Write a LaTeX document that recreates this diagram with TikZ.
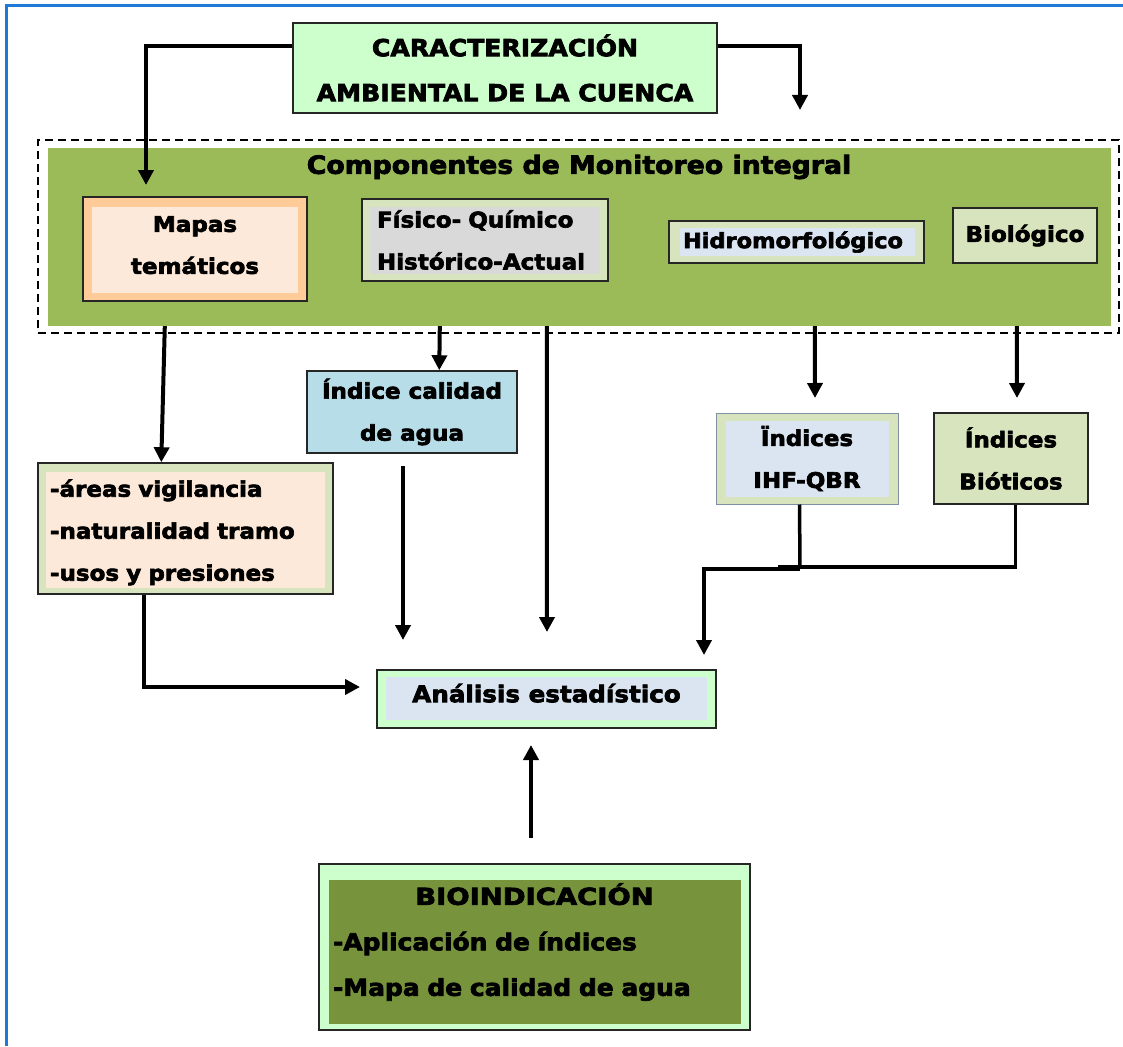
\documentclass[tikz,border=0pt]{standalone}
\usepackage{fontspec}
\usepackage{graphicx}
\setmainfont{DejaVu Sans Bold}[FakeStretch=1.07, FakeBold=3]
\usetikzlibrary{arrows.meta,calc}

\definecolor{frameblue}{HTML}{1E7AD6}
\definecolor{leafgreen}{HTML}{9BBB59}
\definecolor{mint}{HTML}{CCFFCC}
\definecolor{paleolive}{HTML}{D7E4BD}
\definecolor{paleblue}{HTML}{DBE5F1}
\definecolor{waterblue}{HTML}{B7DEE8}
\definecolor{peach}{HTML}{FDE9D9}
\definecolor{apricot}{HTML}{FFCC99}
\definecolor{lightgrey}{HTML}{D9D9D9}
\definecolor{olive}{HTML}{77933C}
\definecolor{edge}{HTML}{262626}
\definecolor{slateedge}{HTML}{7F8FA6}

% invisible struts that move a text block inside its box
\newcommand{\padbelow}[1]{\rule[-#1]{0pt}{#1}}
\newcommand{\padabove}[1]{\rule{0pt}{#1}}

\tikzset{
  box/.style n args={3}{draw=edge, line width=1.5pt, fill=#1,
    minimum width=#2pt, minimum height=#3pt, inner sep=0pt,
    font=\fontsize{21.5}{42}\selectfont, align=center},
  % inner coloured panel: colour, left, right, top, bottom insets
  inset/.style n args={5}{path picture={
    \fill[#1] ($(path picture bounding box.south west)+(#2pt,#5pt)$)
      rectangle ($(path picture bounding box.north east)+(-#3pt,-#4pt)$);}},
  link/.style={line width=4pt, draw=black},
  thinlink/.style={line width=3.5pt, draw=black},
  arrow/.style={link, -{Triangle[length=15pt,width=15pt]}},
}

\begin{document}
\begin{tikzpicture}[x=1pt, y=-1pt]
  \fill[white] (0,0) rectangle (1123,1046);
  \useasboundingbox (0,0) rectangle (1123,1046);

  % outer page frame
  \draw[frameblue, line width=3pt] (6,1046) -- (6,6) -- (1123,6);

  % header box
  \node[box={mint}{424}{90}, font=\fontsize{23.5}{45}\selectfont] (top) at (505,68)
    {CARACTERIZACIÓN\\AMBIENTAL DE LA CUENCA};

  % monitoring components band
  \node[draw, dash pattern=on 8pt off 5pt, line width=2pt, minimum width=1081pt,
        minimum height=193pt, inner sep=0pt] (frame) at (578.5,236.5) {};
  \node[fill=leafgreen, minimum width=1063pt, minimum height=178pt, inner sep=0pt]
    (area) at (579.5,237) {};
  \node[font=\fontsize{25}{30}\selectfont] (comptitle) at (579,167)
    {Componentes de Monitoreo integral};

  \node[box={apricot}{224}{104}, inset={peach}{9}{9}{10}{8}] (mapas) at (195,249)
    {Mapas\\temáticos\padbelow{8pt}};
  \node[box={paleolive}{246}{82}, inset={lightgrey}{8}{8}{8}{7}, align=left,
        text width=216pt, inner xsep=15pt] (fisico) at (485,240)
    {Físico- Químico\\Histórico-Actual};
  \node[box={paleolive}{255}{42}, inset={paleblue}{11}{9}{7}{7}, align=left,
        text width=227pt, inner xsep=14pt, font=\fontsize{21}{42}\selectfont]
    (hidro) at (796.5,242) {Hidromorfológico};
  \node[box={paleolive}{144}{55}] (bio) at (1025,235.5) {Biológico};

  % derived indices
  \node[box={waterblue}{210}{82}] (idx) at (412,412) {Índice calidad\\de agua};
  \node[box={paleolive}{182}{91}, draw=slateedge, line width=1pt,
        inset={paleblue}{10}{9}{8}{7}] (ihf) at (807,458.5) {Ïndices\\IHF-QBR};
  \node[box={paleolive}{154}{91}] (biot) at (1011,458.5) {Índices\\Bióticos};

  \node[box={paleolive}{295}{131}, inset={peach}{8}{8}{9}{6}, align=left,
        text width=271pt, inner xsep=12pt] (ll) at (185.5,528.5)
    {\padabove{25pt}-áreas vigilancia\\-naturalidad tramo\\-usos y presiones};

  % analysis and bioindication
  \node[box={mint}{339}{58}, inset={paleblue}{9}{9}{7}{8},
        font=\fontsize{23}{28}\selectfont] (anal) at (546.5,699)
    {Análisis estadístico\padbelow{12pt}};
  \node[box={mint}{431}{166}, inset={olive}{10}{9}{16}{6}, align=left,
        text width=403pt, inner xsep=14pt, font=\fontsize{23.3}{45.5}\selectfont]
    (bioind) at (534.5,947)
    {\makebox[403pt]{\scalebox{1.1}[1]{BIOINDICACIÓN}}\\-Aplicación de índices\\-Mapa de calidad de agua\padbelow{15pt}};

  % connectors from the header
  \coordinate (lt) at ($(top.north west)+(0,24)$);
  \coordinate (ltend) at (146,185);
  \draw[arrow] (lt) -| (ltend);
  \coordinate (rt) at ($(top.north east)+(0,24)$);
  \coordinate (rtend) at (800,110);
  \draw[arrow] (rt) -| (rtend);

  % connectors leaving the band
  \draw[arrow] ($(area.south west)+(117,0)$) -- ($(ll.north west)+(124,0)$);
  \draw[arrow] ($(area.south west)+(392,0)$) -- ($(idx.north west)+(133,0)$);
  \coordinate (e547) at (547,632);
  \draw[arrow] ($(area.south west)+(499,0)$) -- (e547);
  \coordinate (e815) at (815,398);
  \draw[arrow] ($(area.south west)+(767,0)$) -- (e815);
  \coordinate (e1017) at (1017,398);
  \draw[arrow] ($(area.south west)+(969,0)$) -- (e1017);

  % water quality index towards the analysis
  \coordinate (s403) at (403,466);
  \coordinate (e403) at (403,640);
  \draw[arrow] (s403) -- (e403);

  % merged line from both index boxes
  \coordinate (j1) at (800,567);
  \draw[thinlink] ($(ihf.south west)+(84,0)$) -- (j1);
  \coordinate (j2) at (778,567);
  \draw[thinlink] ($(biot.south west)+(82,0)$) |- (j2);
  \coordinate (j3) at (800,569);
  \coordinate (e704) at (704,655);
  \draw[arrow] (j3) -| (e704);

  % thematic results towards the analysis
  \coordinate (e360) at (360,687);
  \draw[arrow] ($(ll.south west)+(107,0)$) |- (e360);

  % bioindication up to the analysis
  \coordinate (s531) at (531,838);
  \coordinate (e531) at (531,745);
  \draw[arrow] (s531) -- (e531);
\end{tikzpicture}
\end{document}
